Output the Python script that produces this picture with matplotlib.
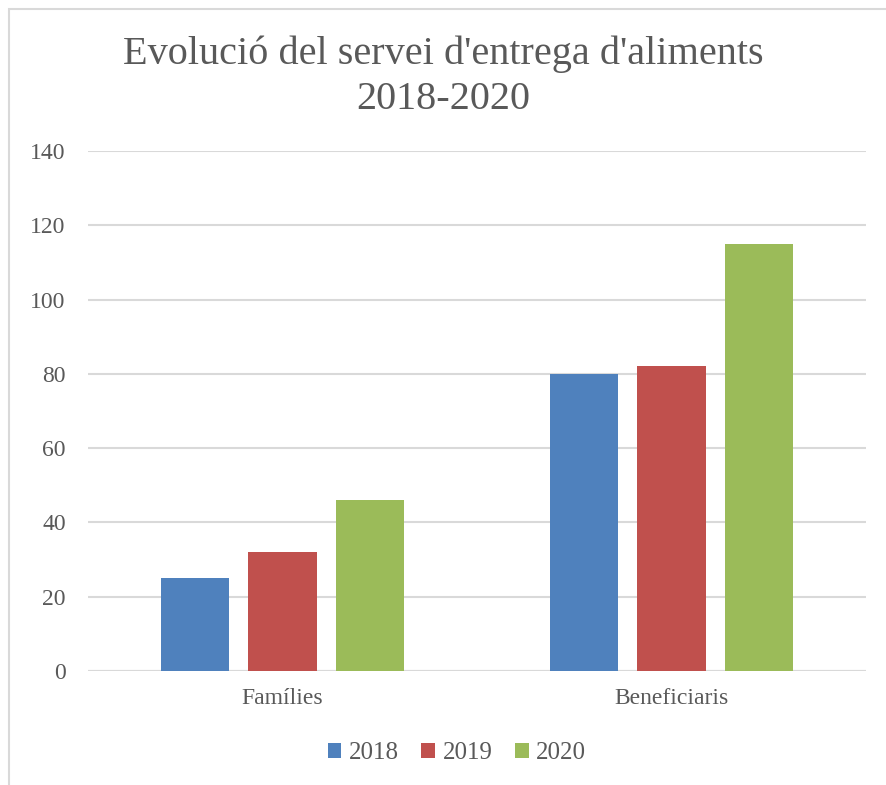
import matplotlib.pyplot as plt
import numpy as np
from matplotlib.patches import Rectangle

categories = ["Famílies", "Beneficiaris"]
years = ["2018", "2019", "2020"]
valors_2018 = [25, 80]
valors_2019 = [32, 82]
valors_2020 = [46, 115]
colors = ["#4f81bd", "#c0504d", "#9bbb59"]

plt.rcParams['font.family'] = ['Liberation Serif', 'DejaVu Serif']
gris = "#595959"

fig = plt.figure(figsize=(8.87, 7.85), dpi=100)
# marc del grafic
fig.patches.append(Rectangle((9/887, -0.01), 1.0, 1 - 9/785 + 0.01, transform=fig.transFigure,
                             fill=False, edgecolor="#d9d9d9", linewidth=1.5))

ax = fig.add_axes([88/887, 1 - 671/785, (866-88)/887, (671-151)/785])

x = np.arange(len(categories))
w = 0.175
step = 0.224
series = [valors_2018, valors_2019, valors_2020]
for i, (vals, col, lab) in enumerate(zip(series, colors, years)):
    ax.bar(x + (i-1)*step, vals, w, color=col, label=lab, zorder=3)

ax.set_xlim(-0.5, 1.5)
ax.set_ylim(0, 140)
ax.set_yticks(range(0, 141, 20))
ax.yaxis.grid(True, color="#d9d9d9", linewidth=1.5, zorder=0)
for s in ax.spines.values():
    s.set_visible(False)
ax.axhline(0, color="#d9d9d9", linewidth=1.5, zorder=2)
ax.tick_params(axis='both', length=0, labelsize=17, colors=gris)
ax.tick_params(axis='y', pad=16)
ax.set_xticks(x)
ax.set_xticklabels(categories)
ax.tick_params(axis='x', pad=12)

fig.text(0.5, 1 - 77/785, "Evolució del servei d'entrega d'aliments\n2018-2020",
         ha='center', va='center', fontsize=29, color=gris, linespacing=1.3)

leg = fig.legend(loc='center', bbox_to_anchor=(457/887, 1 - 753/785), ncol=3, frameon=False,
                 fontsize=18, handlelength=0.55, handleheight=0.55, handletextpad=0.3,
                 columnspacing=0.9)
for t in leg.get_texts():
    t.set_color(gris)

plt.savefig("out.png", dpi=100)
